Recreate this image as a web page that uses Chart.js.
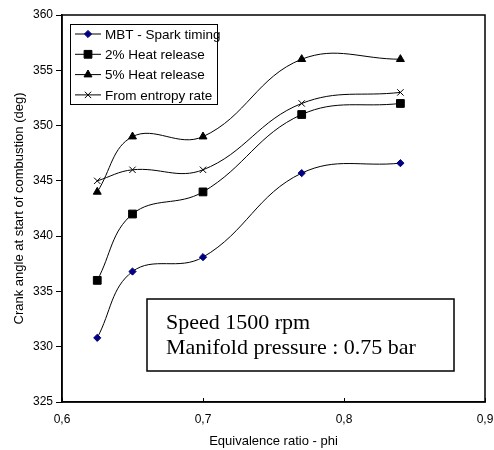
<!DOCTYPE html>
<html>
<head>
<meta charset="utf-8">
<title>Start of combustion vs equivalence ratio</title>
<script src="https://cdn.jsdelivr.net/npm/chart.js"></script>
<style>
  html, body { margin: 0; padding: 0; background: #fff; }
  #wrap { width: 494px; height: 450px; }
</style>
</head>
<body>
<div id="wrap"><canvas id="chart" width="494" height="450"></canvas></div>
<script>
// data
const phi = [0.625, 0.65, 0.7, 0.77, 0.84];
const mbtSpark = [330.8, 336.8, 338.1, 345.7, 346.6];
const heat2 = [336, 342, 344, 351, 352];
const heat5 = [344, 349, 349, 356, 356];
const entropyRate = [345, 346, 346, 352, 353];
const seriesNames = ['MBT - Spark timing', '2% Heat release', '5% Heat release', 'From entropy rate'];
const xTicks = [0.6, 0.7, 0.8, 0.9];
const yTicks = [325, 330, 335, 340, 345, 350, 355, 360];
const noteLines = ['Speed 1500 rpm', 'Manifold pressure : 0.75 bar'];

const sansFont = "'Liberation Sans', Arial, sans-serif";
const serifFont = "'Liberation Serif', 'Times New Roman', serif";

function toPoints(values) {
  return phi.map((x, i) => ({ x: x, y: values[i] }));
}

// marker style per series
const markers = [
  { pointStyle: 'rectRot', radius: 3.6, fill: '#000080', stroke: '#000080' },
  { pointStyle: 'rect', radius: 5.5, fill: '#000', stroke: '#000' },
  { pointStyle: 'triangle', radius: 4.6, fill: '#000', stroke: '#000' },
  { pointStyle: 'crossRot', radius: 4.5, fill: '#000', stroke: '#000' }
];

const allValues = [mbtSpark, heat2, heat5, entropyRate];

const datasets = allValues.map((vals, i) => ({
  label: seriesNames[i],
  data: toPoints(vals),
  borderColor: '#000',
  borderWidth: 1,
  tension: 0.4,
  fill: false,
  pointStyle: markers[i].pointStyle,
  pointRadius: markers[i].radius,
  pointHoverRadius: markers[i].radius,
  pointBackgroundColor: markers[i].fill,
  pointBorderColor: markers[i].stroke,
  pointBorderWidth: 1
}));

// frame round the plot + small inside ticks on x
const framePlugin = {
  id: 'frame',
  afterDraw(chart) {
    const { ctx, chartArea: a } = chart;
    ctx.save();
    ctx.strokeStyle = '#000';
    ctx.lineWidth = 1.5;
    ctx.strokeRect(a.left, a.top, a.right - a.left, a.bottom - a.top);
    const xs = chart.scales.x;
    ctx.lineWidth = 1;
    xTicks.forEach(v => {
      const px = Math.round(xs.getPixelForValue(v)) + 0.5;
      ctx.beginPath();
      ctx.moveTo(px, a.bottom);
      ctx.lineTo(px, a.bottom - 4);
      ctx.stroke();
    });
    ctx.restore();
  }
};

// legend box in the top-left corner of the plot
const boxLegend = {
  id: 'boxLegend',
  afterDatasetsDraw(chart) {
    const ctx = chart.ctx;
    const left = 70, top = 24, w = 147, h = 80;
    ctx.save();
    ctx.fillStyle = '#fff';
    ctx.fillRect(left, top, w, h);
    ctx.strokeStyle = '#000';
    ctx.lineWidth = 1;
    ctx.strokeRect(left + 0.5, top + 0.5, w, h);
    ctx.font = '13.5px ' + sansFont;
    ctx.textBaseline = 'middle';
    seriesNames.forEach((name, i) => {
      const y = top + 10 + i * 20.3;
      ctx.strokeStyle = '#000';
      ctx.lineWidth = 1;
      ctx.beginPath();
      ctx.moveTo(75, y);
      ctx.lineTo(101, y);
      ctx.stroke();
      ctx.fillStyle = markers[i].fill;
      ctx.strokeStyle = markers[i].stroke;
      Chart.helpers.drawPoint(ctx, {
        pointStyle: markers[i].pointStyle,
        radius: markers[i].radius,
        borderWidth: 1,
        rotation: 0
      }, 88, y);
      ctx.fillStyle = '#000';
      ctx.fillText(name, 105, y + 1);
    });
    ctx.restore();
  }
};

// text box with the running conditions
const noteBox = {
  id: 'noteBox',
  afterDatasetsDraw(chart) {
    const ctx = chart.ctx;
    ctx.save();
    ctx.fillStyle = '#fff';
    ctx.fillRect(147, 299, 307, 72);
    ctx.strokeStyle = '#000';
    ctx.lineWidth = 1.5;
    ctx.strokeRect(147, 299, 307, 72);
    ctx.fillStyle = '#000';
    ctx.font = '22px ' + serifFont;
    ctx.textBaseline = 'alphabetic';
    noteLines.forEach((line, i) => {
      ctx.fillText(line, 166, 329 + i * 25);
    });
    ctx.restore();
  }
};

new Chart(document.getElementById('chart'), {
  type: 'line',
  data: { datasets: datasets },
  options: {
    responsive: false,
    animation: false,
    layout: { padding: { top: 15, right: 0, left: 0, bottom: 0 } },
    plugins: {
      legend: { display: false },
      tooltip: { enabled: false }
    },
    scales: {
      x: {
        type: 'linear',
        min: 0.6,
        max: 0.9,
        afterBuildTicks(scale) {
          scale.ticks = xTicks.map(v => ({ value: v }));
        },
        afterFit(scale) {
          scale.height = 48;
          scale.paddingRight = 9;
        },
        grid: { display: true, drawOnChartArea: false, drawTicks: false },
        border: { color: '#000', width: 1.5 },
        ticks: {
          color: '#000',
          padding: 10,
          font: { family: sansFont, size: 12 },
          callback: v => v.toFixed(1).replace('.', ',')
        },
        title: {
          display: true,
          text: 'Equivalence ratio - phi',
          color: '#000',
          font: { family: sansFont, size: 13 },
          padding: { top: 0, bottom: 1 }
        }
      },
      y: {
        min: 325,
        max: 360,
        afterBuildTicks(scale) {
          scale.ticks = yTicks.map(v => ({ value: v }));
        },
        afterFit(scale) { scale.width = 62; },
        grid: { display: true, drawOnChartArea: false, drawTicks: true, tickLength: 6, color: '#000' },
        border: { color: '#000', width: 1.5 },
        ticks: {
          color: '#000',
          padding: 3,
          font: { family: sansFont, size: 12 }
        },
        title: {
          display: true,
          text: 'Crank angle at start of combustion (deg)',
          color: '#000',
          font: { family: sansFont, size: 13 },
          padding: { top: 12, bottom: 0 }
        }
      }
    }
  },
  plugins: [framePlugin, boxLegend, noteBox]
});
</script>
</body>
</html>
